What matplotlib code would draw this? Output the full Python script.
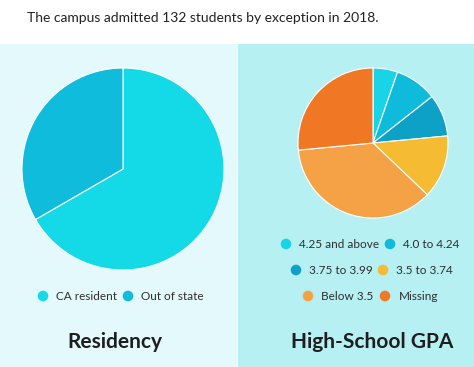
import matplotlib
matplotlib.use("Agg")
import matplotlib.pyplot as plt
from matplotlib.patches import Rectangle, Circle

# Data
title = "The campus admitted 132 students by exception in 2018."
res_labels = ["CA resident", "Out of state"]
res_values = [88, 44]
res_colors = ["#14d9e6", "#0fbcdc"]

gpa_labels = ["4.25 and above", "4.0 to 4.24", "3.75 to 3.99", "3.5 to 3.74", "Below 3.5", "Missing"]
gpa_values = [7, 12, 12, 18, 48, 35]
gpa_colors = ["#19d4e6", "#0fbbdb", "#0ea1c8", "#f4bb33", "#f5a246", "#f07723"]

panel_titles = ["Residency", "High-School GPA"]

W, H = 474, 367
fig = plt.figure(figsize=(W / 100, H / 100), dpi=100)
fig.patch.set_facecolor("white")

# overlay in pixel coordinates
ov = fig.add_axes([0, 0, 1, 1], zorder=0)
ov.set_xlim(0, W)
ov.set_ylim(H, 0)
ov.axis("off")

ov.add_patch(Rectangle((0, 44), 237, 323, facecolor="#e3f9fb", edgecolor="none"))
ov.add_patch(Rectangle((238, 44), 236, 323, facecolor="#b7f0f3", edgecolor="none"))

FONT = "Lato"
ov.text(27, 18, title, fontsize=10, family=FONT, color="#222222", va="center", ha="left")

def pix_axes(cx, cy, r):
    return fig.add_axes([(cx - r) / W, (H - cy - r) / H, 2 * r / W, 2 * r / H], zorder=2)

ax1 = pix_axes(123, 169, 101)
ax1.pie(res_values, colors=res_colors, startangle=90, counterclock=False,
        wedgeprops=dict(edgecolor="white", linewidth=0.8))
ax1.set_xlim(-1, 1); ax1.set_ylim(-1, 1)
ax1.set_aspect("equal"); ax1.axis("off")

ax2 = pix_axes(373, 143, 75)
ax2.pie(gpa_values, colors=gpa_colors, startangle=90, counterclock=False,
        wedgeprops=dict(edgecolor="white", linewidth=0.8))
ax2.set_xlim(-1, 1); ax2.set_ylim(-1, 1)
ax2.set_aspect("equal"); ax2.axis("off")

def legend_item(x, y, label, color):
    ov.add_patch(Circle((x, y), 5.3, facecolor=color, edgecolor="none"))
    ov.text(x + 13.5, y, label, fontsize=8.5, family=FONT, color="#2e2e2e", va="center", ha="left")

# Residency legend
legend_item(43, 296, res_labels[0], res_colors[0])
legend_item(128, 296, res_labels[1], res_colors[1])

# GPA legend
gpa_pos = [(286, 244), (390, 244), (296, 270), (383, 270), (308, 296), (385, 296)]
for (x, y), lab, col in zip(gpa_pos, gpa_labels, gpa_colors):
    legend_item(x, y, lab, col)

ov.text(115, 342, panel_titles[0], fontsize=15, family=FONT, fontweight="bold",
        color="#1e1e1e", ha="center", va="center")
ov.text(372, 342, panel_titles[1], fontsize=15, family=FONT, fontweight="bold",
        color="#1e1e1e", ha="center", va="center")

fig.savefig("out.png", dpi=100, facecolor="white")
